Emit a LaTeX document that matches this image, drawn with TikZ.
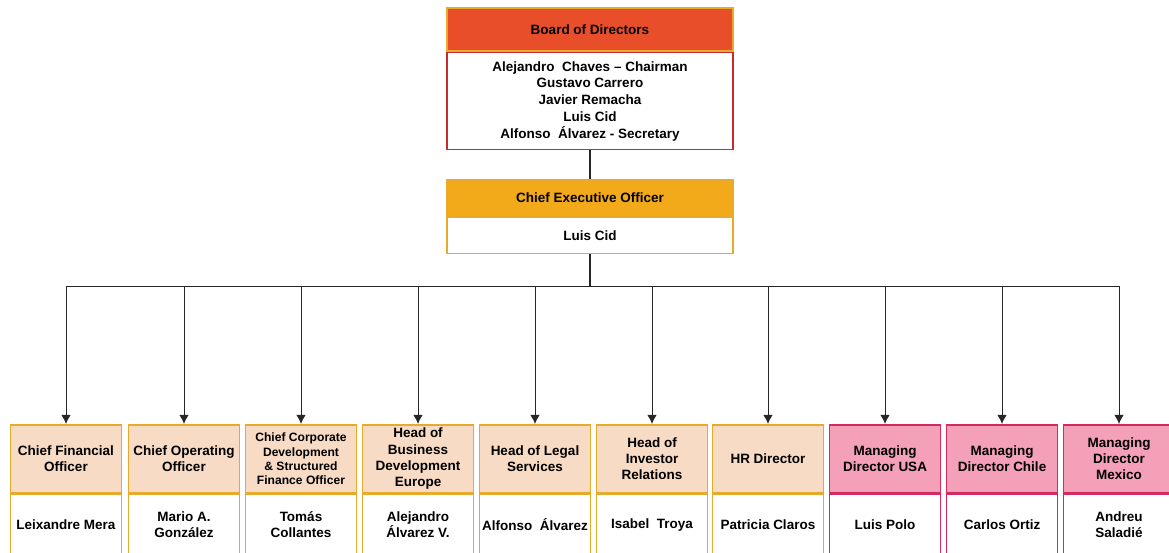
\documentclass[tikz,border=0pt]{standalone}
\usepackage{fontspec}
\setmainfont{Liberation Sans}
\usetikzlibrary{arrows.meta}
\definecolor{boardred}{HTML}{E94E2B}
\definecolor{boardline}{HTML}{C62B2F}
\definecolor{ceogold}{HTML}{F2AA1A}
\definecolor{goldline}{HTML}{E8AA2A}
\definecolor{peach}{HTML}{F7DBC4}
\definecolor{pink}{HTML}{F4A0B8}
\definecolor{pinkline}{HTML}{D42A5E}
\tikzset{
	head/.style={draw, line width=1.2pt, anchor=north, align=center, inner sep=1pt,
		font=\bfseries\fontsize{9.6}{11.9}\selectfont},
	body/.style={head, fill=white},
	link/.style={draw=black!85, line width=0.7pt},
	tip/.style={-{Latex[length=2.3mm, width=2.4mm]}}
}
\begin{document}
\begin{tikzpicture}[x=0.025cm, y=-0.025cm, every node/.append style={text=black}]
\useasboundingbox (0,0) rectangle (1169,552);

	% board and ceo
	\node[head, fill=boardred, draw=goldline, minimum width=7.15cm, minimum height=1.075cm] (board) at (590,7) {Board of Directors};
	\node[body, draw=boardline, minimum width=7.15cm, minimum height=2.425cm] (boardm) at (board.south)
		{Alejandro~ Chaves -- Chairman\\Gustavo Carrero\\Javier Remacha\\Luis Cid\\Alfonso~ Álvarez - Secretary};
	\node[head, fill=ceogold, draw=goldline, minimum width=7.15cm, minimum height=0.9cm] (ceo) at (590,179) {Chief Executive Officer};
	\node[body, draw=goldline, minimum width=7.15cm, minimum height=0.9cm] (ceom) at (ceo.south) {Luis Cid};

	\draw[link, line width=1.2pt] (boardm.south) -- (ceo.north);
	\draw[link, line width=1.2pt] (ceom.south) -- (590,286) coordinate (bus);

	% direct reports
	\foreach \i/\x/\h/\n/\c/\d/\fs/\ls in {
		1/66/{Chief Financial\\Officer}/{Leixandre Mera}/peach/goldline/9.6/11.3,
		2/184/{Chief Operating\\Officer}/{Mario A.\\González}/peach/goldline/9.6/11.3,
		3/301/{Chief Corporate\\Development\\\& Structured\\Finance Officer}/{Tomás\\Collantes}/peach/goldline/8.6/10.1,
		4/418/{Head of\\Business\\Development\\Europe}/{Alejandro\\Álvarez V.}/peach/goldline/9.6/11.6,
		5/535/{Head of Legal\\Services}/{Alfonso~ Álvarez}/peach/goldline/9.6/11.3,
		6/652/{Head of\\Investor\\Relations}/{Isabel~ Troya}/peach/goldline/9.6/11.6,
		7/768/{HR Director}/{Patricia Claros}/peach/goldline/9.6/11.3,
		8/885/{Managing\\Director USA}/{Luis Polo}/pink/pinkline/9.6/11.3,
		9/1002/{Managing\\Director Chile}/{Carlos Ortiz}/pink/pinkline/9.6/11.3,
		10/1119/{Managing\\Director\\Mexico}/{Andreu\\Saladié}/pink/pinkline/9.6/11.3}
	{
		\node[head, fill=\c, draw=\d, minimum width=2.775cm, minimum height=1.7cm,
			font=\bfseries\fontsize{\fs}{\ls}\selectfont] (h\i) at (\x,424) {\h};
		\node[body, draw=\d, minimum width=2.775cm, minimum height=1.5cm,
			font=\bfseries\fontsize{9.6}{11.3}\selectfont] (b\i) at (h\i.south) {\n};
		\draw[link, tip] (bus) -| (h\i.north);
	}

\end{tikzpicture}
\end{document}
